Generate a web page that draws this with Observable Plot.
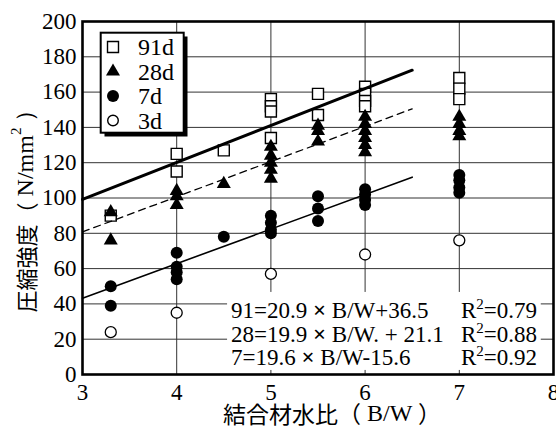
<!DOCTYPE html>
<html><head><meta charset="utf-8">
<script src="https://cdn.jsdelivr.net/npm/d3@7"></script>
<script src="https://cdn.jsdelivr.net/npm/@observablehq/plot@0.6"></script>
<style>
body{margin:0;background:#fff;}
#chart{position:relative;width:556px;height:426px;}
#chart svg text, #chart svg tspan{font-family:"Liberation Serif","Times New Roman","DejaVu Serif",serif;}
</style></head><body><div id="chart"></div>
<script>
// binder-water ratio levels (x positions of the sample columns)
const bwLevels = [3.3, 4, 4.5, 5, 5.5, 6, 7];
// compressive strength readings (N/mm2), one list per B/W level
const s91 = [[90], [125, 115], [127], [156, 152, 149, 134], [159, 147], [163, 159, 155, 152], [168, 162, 156]];
const s28 = [[92, 76], [104, 101, 96], [108], [129, 124, 120, 116, 111], [141, 138, 132], [146, 142, 138, 134, 130, 126], [146, 142, 138, 135]];
const s7  = [[50, 39], [69, 61, 58, 54], [78], [90, 86, 82, 80], [101, 94, 87], [105, 102, 99, 96], [113, 110, 106, 103]];
const s3  = [[24], [35], [], [57], [], [68], [76]];
// regression line end points
const fit91 = [{x: 3, y: 99.2}, {x: 6.5, y: 172.4}];
const fit28 = [{x: 3, y: 80.8}, {x: 6.5, y: 150.5}];
const fit7  = [{x: 3, y: 43.2}, {x: 6.5, y: 111.8}];
// axes
const xTicks = [3, 4, 5, 6, 7, 8];
const yTicks = [0, 20, 40, 60, 80, 100, 120, 140, 160, 180, 200];
const xGrid = [4, 5, 6, 7];
const yGrid = [20, 40, 60, 80, 100, 120, 140, 160, 180];
const legendLabels = ["91d", "28d", "7d", "3d"];
const eqLeft = ["91=20.9 ", "28=19.9 ", "7=19.6 "];
const eqRight = [" B/W+36.5", " B/W. + 21.1", " B/W-15.6"];
const r2Values = ["=0.79", "=0.88", "=0.92"];
const yLabelParts = ["圧縮強度（", " N/mm", "2", " ）"];
const xLabelParts = ["結合材水比（", " B/W ", "）"];

function flatten(vals) {
  const out = [];
  bwLevels.forEach((x, i) => vals[i].forEach(v => out.push({x, y: v})));
  return out;
}
const p91 = flatten(s91), p28 = flatten(s28), p7 = flatten(s7), p3 = flatten(s3);

const cjk = "'Noto Sans CJK JP','Noto Sans CJK SC',sans-serif";

const chart = Plot.plot({
  width: 556, height: 426,
  marginLeft: 82, marginRight: 3, marginTop: 21, marginBottom: 52,
  style: {fontSize: "23px", color: "#000", background: "#fff"},
  x: {domain: [3, 8], ticks: xTicks, tickFormat: d => String(d), tickSize: 0, tickPadding: 9, label: null},
  y: {domain: [0, 200], ticks: yTicks, tickFormat: d => String(d), tickSize: 0, tickPadding: 6, label: null},
  marks: [
    Plot.gridX(xGrid, {stroke: "#333", strokeOpacity: 1, strokeWidth: 1}),
    Plot.gridY(yGrid, {stroke: "#333", strokeOpacity: 1, strokeWidth: 1}),
    Plot.rect([0], {x1: () => 4.54, x2: () => 7.87, y1: () => 2.3, y2: () => 46.5, fill: "white"}),
    Plot.dot(p91, {x: "x", y: "y", symbol: "square", r: 6.2, fill: "white", stroke: "black", strokeWidth: 1.4}),
    Plot.line(fit91, {x: "x", y: "y", stroke: "black", strokeWidth: 3}),
    Plot.line(fit28, {x: "x", y: "y", stroke: "black", strokeWidth: 1.3, strokeDasharray: "7,5"}),
    Plot.line(fit7, {x: "x", y: "y", stroke: "black", strokeWidth: 1.6}),
    Plot.dot(p28, {x: "x", y: "y", symbol: "triangle", r: 5.2, fill: "black", stroke: "none"}),
    Plot.dot(p7, {x: "x", y: "y", symbol: "circle", r: 6, fill: "black", stroke: "none"}),
    Plot.dot(p3, {x: "x", y: "y", symbol: "circle", r: 5.5, fill: "white", stroke: "black", strokeWidth: 1.3}),
    Plot.frame({stroke: "black", strokeWidth: 2.6})
  ]
});
document.getElementById("chart").appendChild(chart);

const svg = d3.select(chart);

// equations
const eq = svg.append("g").attr("font-size", 23).attr("fill", "black").attr("text-anchor", "start");
const eqBase = [318, 341.5, 365];
eqLeft.forEach((t, i) => {
  const tx = eq.append("text").attr("x", 231).attr("y", eqBase[i]);
  tx.append("tspan").text(t);
  tx.append("tspan").attr("font-weight", "bold").text("×");
  tx.append("tspan").text(eqRight[i]);
  const r = eq.append("text").attr("x", 461).attr("y", eqBase[i]);
  r.append("tspan").text("R");
  r.append("tspan").attr("dy", -9).attr("font-size", 15).text("2");
  r.append("tspan").attr("dy", 9).text(r2Values[i]);
});

// legend
const lg = svg.append("g").attr("text-anchor", "start");
lg.append("rect").attr("x", 104.5).attr("y", 36.5).attr("width", 83).attr("height", 100).attr("fill", "black");
lg.append("rect").attr("x", 100.7).attr("y", 32.7).attr("width", 83).attr("height", 100).attr("fill", "white").attr("stroke", "black").attr("stroke-width", 2);
const legendY = [47, 71.5, 96, 120.5];
const syms = [
  {type: d3.symbolSquare, r: 6.2, fill: "white", stroke: "black"},
  {type: d3.symbolTriangle, r: 5.2, fill: "black", stroke: "none"},
  {type: d3.symbolCircle, r: 6, fill: "black", stroke: "none"},
  {type: d3.symbolCircle, r: 5.3, fill: "white", stroke: "black"}
];
legendLabels.forEach((lab, i) => {
  const s = syms[i];
  lg.append("path")
    .attr("d", d3.symbol(s.type, Math.PI * s.r * s.r)())
    .attr("transform", `translate(113,${legendY[i]})`)
    .attr("fill", s.fill).attr("stroke", s.stroke).attr("stroke-width", 1.4);
  lg.append("text").attr("x", 138).attr("y", legendY[i] + 8)
    .attr("font-size", 24).text(lab);
});

// y axis label
const yl = svg.append("text")
  .attr("transform", "translate(25,205) rotate(-90)")
  .attr("text-anchor", "middle").attr("dominant-baseline", "central")
  .attr("font-size", 22).attr("fill", "black");
yl.append("tspan").style("font-family", cjk).text(yLabelParts[0]);
yl.append("tspan").attr("font-size", 24).text(yLabelParts[1]);
yl.append("tspan").attr("font-size", 15).attr("dy", -9).text(yLabelParts[2]);
yl.append("tspan").attr("dy", 9).attr("font-size", 24).text(yLabelParts[3]);

// x axis label
const xl = svg.append("text")
  .attr("x", 332).attr("y", 413)
  .attr("text-anchor", "middle").attr("dominant-baseline", "central")
  .attr("font-size", 23).attr("fill", "black");
xl.append("tspan").style("font-family", cjk).text(xLabelParts[0]);
xl.append("tspan").attr("font-size", 24).text(xLabelParts[1]);
xl.append("tspan").style("font-family", cjk).text(xLabelParts[2]);
</script>
</body></html>
